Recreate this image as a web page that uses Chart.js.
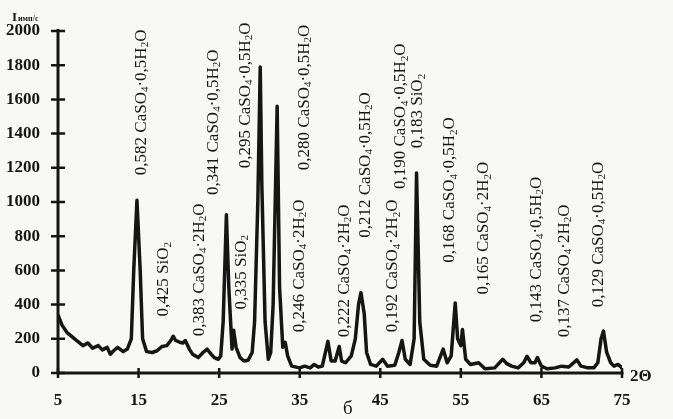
<!DOCTYPE html>
<html>
<head>
<meta charset="utf-8">
<script src="https://cdn.jsdelivr.net/npm/chart.js@4.4.1/dist/chart.umd.min.js"></script>
<style>
  html, body { margin: 0; padding: 0; background: #f8f8f6; }
  #wrap { width: 673px; height: 419px; }
</style>
</head>
<body>
<div id="wrap"><canvas id="xrd" width="673" height="419"></canvas></div>
<script>
// diffractogram: 2theta (deg) and intensity (imp/s)
const twoTheta = [
  5.0, 5.5, 6.1, 7.1, 8.1, 8.7, 9.3, 10.0, 10.5, 11.1, 11.5, 11.9, 12.4, 13.1, 13.6, 14.1, 14.4, 14.8, 15.2, 15.5,
  16.0, 16.7, 17.3, 17.9, 18.5, 19.0, 19.3, 19.6, 20.1, 20.5, 20.8, 21.3, 21.7, 22.4, 23.0, 23.5, 24.0, 24.4, 24.9, 25.2,
  25.5, 25.9, 26.2, 26.6, 26.8, 27.1, 27.6, 28.1, 28.6, 29.1, 29.4, 29.8, 30.1, 30.3, 30.7, 31.1, 31.4, 31.7, 32.2, 32.5,
  32.9, 33.2, 33.5, 34.0, 35.0, 35.6, 36.3, 36.8, 37.3, 37.8, 38.5, 38.9, 39.4, 39.9, 40.2, 40.7, 41.4, 41.9, 42.3, 42.6,
  43.0, 43.3, 43.8, 44.5, 45.3, 45.9, 46.8, 47.3, 47.7, 48.1, 48.7, 49.2, 49.5, 49.9, 50.4, 51.2, 52.0, 52.8, 53.3, 53.8,
  54.3, 54.6, 55.0, 55.2, 55.6, 56.2, 57.2, 58.0, 59.2, 60.2, 60.7, 61.3, 62.1, 62.8, 63.2, 63.7, 64.2, 64.5, 65.0, 65.7,
  66.7, 67.5, 68.4, 69.4, 69.9, 70.8, 71.5, 72.0, 72.4, 72.7, 73.1, 73.6, 74.0, 74.5, 75.0
];
const intensity = [
  340, 280, 238, 198, 160, 175, 145, 160, 135, 150, 110, 130, 150, 125, 140, 200, 600, 1010, 600, 200,
  125, 120, 130, 155, 160, 190, 215, 190, 180, 175, 190, 140, 110, 90, 120, 140, 110, 90, 80, 100,
  300, 925, 500, 140, 250, 150, 90, 70, 75, 120, 300, 1000, 1790, 1100, 300, 80, 120, 400, 1560, 500,
  150, 180, 100, 40, 30, 40, 30, 50, 35, 40, 185, 70, 70, 155, 70, 60, 100, 200, 400, 470,
  350, 120, 50, 40, 80, 40, 45, 120, 190, 80, 50, 200, 1170, 300, 80, 45, 40, 140, 60, 100,
  410, 200, 160, 255, 80, 50, 60, 25, 30, 80, 55, 40, 30, 60, 98, 60, 60, 90, 40, 25,
  30, 40, 35, 77, 40, 30, 30, 60, 200, 245, 120, 60, 40, 50, 30
];

const xTicks = [5, 15, 25, 35, 45, 55, 65, 75];
const yTicks = [0, 200, 400, 600, 800, 1000, 1200, 1400, 1600, 1800, 2000];

// peak annotations ("_n" = subscript), with 2theta and intensity where the text starts
const peakLabels = [
  "0,582 CaSO_4·0,5H_2O", "0,425 SiO_2", "0,383 CaSO_4·2H_2O", "0,341 CaSO_4·0,5H_2O",
  "0,335 SiO_2", "0,295 CaSO_4·0,5H_2O", "0,246 CaSO_4·2H_2O", "0,280 CaSO_4·0,5H_2O",
  "0,222 CaSO_4·2H_2O", "0,212 CaSO_4·0,5H_2O", "0,192 CaSO_4·2H_2O", "0,190 CaSO_4·0,5H_2O",
  "0,183 SiO_2", "0,168 CaSO_4·0,5H_2O", "0,165 CaSO_4·2H_2O", "0,143 CaSO_4·0,5H_2O",
  "0,137 CaSO_4·2H_2O", "0,129 CaSO_4·0,5H_2O"
];
const peakLabelAt = [15.2, 18.0, 22.4, 24.1, 27.6, 28.1, 34.8, 35.4, 40.4, 43.0, 46.4, 47.4, 49.5, 53.5, 57.7, 64.2, 67.7, 71.9];
const peakLabelFrom = [1157, 331, 215, 1041, 372, 1198, 238, 1186, 209, 791, 238, 1076, 1314, 645, 459, 297, 209, 384];

const INK = "#151515";
const SERIF = '"Liberation Serif", "DejaVu Serif", serif';

function drawRich(ctx, text, size) {
  const parts = text.split(/(_\d)/);
  let x = 0;
  const base = size * 0.33;
  for (const p of parts) {
    if (!p) continue;
    if (p[0] === "_") {
      ctx.font = `${Math.round(size * 0.62)}px ${SERIF}`;
      ctx.fillText(p[1], x, base + size * 0.15);
      x += ctx.measureText(p[1]).width;
    } else {
      ctx.font = `${size}px ${SERIF}`;
      ctx.fillText(p, x, base);
      x += ctx.measureText(p).width;
    }
  }
}

const decor = {
  id: "decor",
  afterDraw(chart) {
    const { ctx, chartArea: a, scales } = chart;
    const xs = scales.x, ys = scales.y;
    ctx.save();
    ctx.strokeStyle = INK;
    ctx.fillStyle = INK;
    ctx.lineWidth = 3;
    ctx.lineCap = "butt";

    // axes
    ctx.beginPath();
    ctx.moveTo(a.left, a.top - 2);
    ctx.lineTo(a.left, a.bottom + 1.5);
    ctx.moveTo(a.left - 1.5, a.bottom);
    ctx.lineTo(a.right + 1.5, a.bottom);
    ctx.stroke();

    // crossing tick marks
    ctx.lineWidth = 2.5;
    ctx.beginPath();
    yTicks.forEach(v => {
      const y = ys.getPixelForValue(v);
      ctx.moveTo(a.left - 7, y);
      ctx.lineTo(a.left + 7, y);
    });
    xTicks.forEach(v => {
      const x = xs.getPixelForValue(v);
      ctx.moveTo(x, a.bottom - 5);
      ctx.lineTo(x, a.bottom + 5);
    });
    ctx.stroke();

    // peak labels, rotated
    ctx.textBaseline = "alphabetic";
    ctx.textAlign = "left";
    peakLabels.forEach((t, i) => {
      ctx.save();
      ctx.translate(xs.getPixelForValue(peakLabelAt[i]), ys.getPixelForValue(peakLabelFrom[i]));
      ctx.rotate(-Math.PI / 2);
      drawRich(ctx, t, 17);
      ctx.restore();
    });

    // y title
    ctx.font = `bold 13px ${SERIF}`;
    ctx.fillText("I", 12, 21);
    ctx.font = `bold 8px ${SERIF}`;
    ctx.fillText("имп/с", 18, 21);

    // x title
    ctx.font = `bold 17px ${SERIF}`;
    ctx.fillText("2Θ", a.right + 8, a.bottom + 8);

    // panel letter
    ctx.font = `19px ${SERIF}`;
    ctx.fillText("б", 343, 414);
    ctx.restore();
  }
};

const tickFont = { family: SERIF, size: 17, weight: "bold" };

new Chart(document.getElementById("xrd").getContext("2d"), {
  type: "scatter",
  data: {
    datasets: [{
      data: twoTheta.map((t, i) => ({ x: t, y: intensity[i] })),
      showLine: true,
      borderColor: INK,
      borderWidth: 3.5,
      pointRadius: 0,
      tension: 0,
      borderJoinStyle: "round",
    }]
  },
  options: {
    responsive: false,
    animation: false,
    devicePixelRatio: 1,
    layout: { padding: { top: 31, right: 51, left: 0, bottom: 0 } },
    plugins: { legend: { display: false }, tooltip: { enabled: false } },
    scales: {
      x: {
        type: "linear",
        min: 5,
        max: 75,
        grid: { display: false },
        border: { display: false },
        afterBuildTicks: s => { s.ticks = xTicks.map(v => ({ value: v })); },
        afterFit: s => { s.height = 46; },
        ticks: { color: INK, font: tickFont, padding: 9, maxRotation: 0, autoSkip: false, callback: v => String(v) },
      },
      y: {
        min: 0,
        max: 2000,
        grid: { display: false },
        border: { display: false },
        afterBuildTicks: s => { s.ticks = yTicks.map(v => ({ value: v })); },
        afterFit: s => { s.width = 58; },
        ticks: { color: INK, font: tickFont, padding: 10, autoSkip: false, callback: v => String(v) },
      }
    }
  },
  plugins: [decor]
});
</script>
</body>
</html>
